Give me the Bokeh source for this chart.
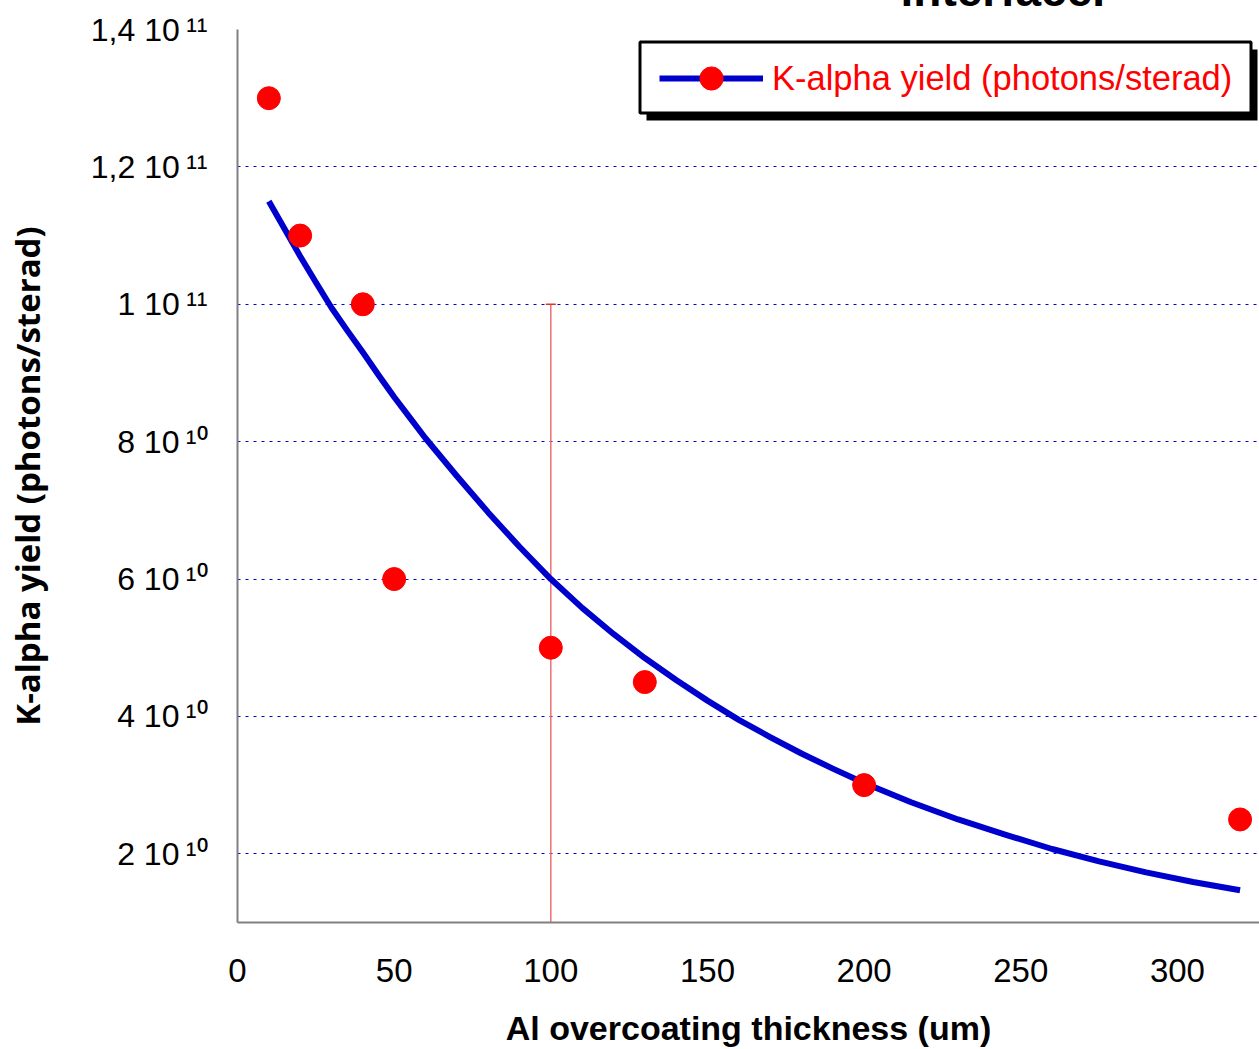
from bokeh.plotting import figure
from bokeh.models import Range1d, FixedTicker, Legend, LegendItem, BoxAnnotation
from bokeh.embed import file_html
from bokeh.resources import INLINE

# ---- data ----
x_pts = [10, 20, 40, 50, 100, 130, 200, 320]
y_pts = [1.3e11, 1.1e11, 1.0e11, 6.0e10, 5.0e10, 4.5e10, 3.0e10, 2.5e10]

fit_x = [10, 15, 20, 25, 30, 35, 40, 45, 50, 55, 60, 70, 80, 90, 100, 110, 120, 130, 140,
         150, 160, 170, 180, 190, 200, 215, 230, 245, 260, 275, 290, 305, 320]
fit_y = [1.150e11, 1.110e11, 1.070e11, 1.032e11, 9.95e10, 9.62e10, 9.30e10, 8.97e10, 8.65e10,
         8.35e10, 8.05e10, 7.50e10, 6.97e10, 6.47e10, 6.00e10, 5.58e10, 5.20e10, 4.85e10,
         4.53e10, 4.23e10, 3.95e10, 3.70e10, 3.46e10, 3.24e10, 3.03e10, 2.75e10, 2.50e10,
         2.28e10, 2.07e10, 1.89e10, 1.73e10, 1.59e10, 1.47e10]

err_x = [100]
err_lo = [1.0e10]
err_hi = [1.0e11]

x_ticks = [0, 50, 100, 150, 200, 250, 300]
y_ticks = [2e10, 4e10, 6e10, 8e10, 1e11, 1.2e11, 1.4e11]
y_tick_labels = ["2 10\u2009\u00b9\u2070", "4 10\u2009\u00b9\u2070", "6 10\u2009\u00b9\u2070",
                 "8 10\u2009\u00b9\u2070", "1 10\u2009\u00b9\u00b9", "1,2 10\u2009\u00b9\u00b9",
                 "1,4 10\u2009\u00b9\u00b9"]

series_name = "K-alpha yield (photons/sterad)"
x_title = "Al overcoating thickness (um)"
y_title = "K-alpha yield (photons/sterad)"
top_title = "interface."

FONT = "Liberation Sans"
TOP = 100          # top border holding the (cropped) title
SHIFT = TOP - 29   # the page shows the frame top at y=29

p = figure(frame_width=1022, frame_height=893, output_backend="svg", toolbar_location=None,
           x_range=Range1d(0, 326.2), y_range=Range1d(1.0e10, 1.4e11),
           min_border_left=237, min_border_right=0, min_border_top=TOP, min_border_bottom=127)
p.styles = {"margin-top": f"-{SHIFT}px"}
p.outline_line_color = None
p.background_fill_color = "white"
p.border_fill_color = "white"

# title (cut off by the top of the window, as in the reference)
p.title.text = top_title
p.title.text_font = FONT
p.title.text_font_style = "bold"
p.title.text_font_size = "46px"
p.title.text_color = "black"
p.title.align = "left"
p.title.offset = 663
p.title.standoff = 27

# axes
for ax in (p.xaxis, p.yaxis):
    ax.axis_line_color = "#808080"
    ax.axis_line_width = 2
    ax.major_tick_line_color = None
    ax.minor_tick_line_color = None
    ax.major_tick_out = 0
    ax.major_tick_in = 0
    ax.major_label_text_font = FONT
    ax.major_label_text_color = "black"
    ax.axis_label_text_color = "black"
    ax.axis_label_text_font_style = "bold"

p.xaxis.ticker = FixedTicker(ticks=x_ticks)
p.xaxis.major_label_text_font_size = "33px"
p.xaxis.major_label_standoff = 36
p.xaxis.axis_label = x_title
p.xaxis.axis_label_text_font = FONT
p.xaxis.axis_label_text_font_size = "34px"
p.xaxis.axis_label_standoff = 24

p.yaxis.ticker = FixedTicker(ticks=y_ticks)
p.yaxis.major_label_text_font_size = "32px"
p.yaxis.major_label_standoff = 30
p.yaxis.major_label_overrides = {v: s for v, s in zip(y_ticks, y_tick_labels)}
p.yaxis.axis_label = y_title
p.yaxis.axis_label_text_font = "Open Sans"
p.yaxis.axis_label_text_font_size = "33px"
p.yaxis.axis_label_standoff = 38

# grid
p.xgrid.visible = False
p.ygrid.ticker = FixedTicker(ticks=y_ticks)
p.ygrid.grid_line_color = "#0000dd"
p.ygrid.grid_line_dash = "3 5"
p.ygrid.grid_line_width = 1

# error bar at x=100
p.segment(x0=err_x, y0=err_lo, x1=err_x, y1=err_hi, line_color="#ee7070", line_width=1.5)
p.scatter(x=err_x, y=err_hi, marker="dash", size=10, line_color="#dd3333", line_width=1.5)

# fitted curve and points
line_r = p.line(fit_x, fit_y, line_color="#0000cc", line_width=6, line_join="round")
pts_r = p.scatter(x_pts, y_pts, marker="circle", size=23, fill_color="#ff0000", line_color="#ff0000")

# legend box with shadow
shadow = BoxAnnotation(left=409, right=1020, bottom=802, top=873,
                       left_units="screen", right_units="screen", bottom_units="screen", top_units="screen",
                       fill_color="black", fill_alpha=1.0, line_color=None)
box = BoxAnnotation(left=402.5, right=1013.5, bottom=809.5, top=880.5,
                    left_units="screen", right_units="screen", bottom_units="screen", top_units="screen",
                    fill_color="white", fill_alpha=1.0, line_color="black", line_width=3, line_alpha=1.0)
p.add_layout(shadow)
p.add_layout(box)

legend = Legend(items=[LegendItem(label=series_name, renderers=[line_r, pts_r])],
                location=(422, 815), padding=0, margin=0, spacing=0,
                glyph_width=104, glyph_height=58, label_standoff=9,
                label_text_font=FONT, label_text_font_size="34.5px", label_text_color="#ff0000",
                background_fill_alpha=0, border_line_color=None)
p.add_layout(legend)

open("out.html", "w").write(file_html(p, INLINE))
